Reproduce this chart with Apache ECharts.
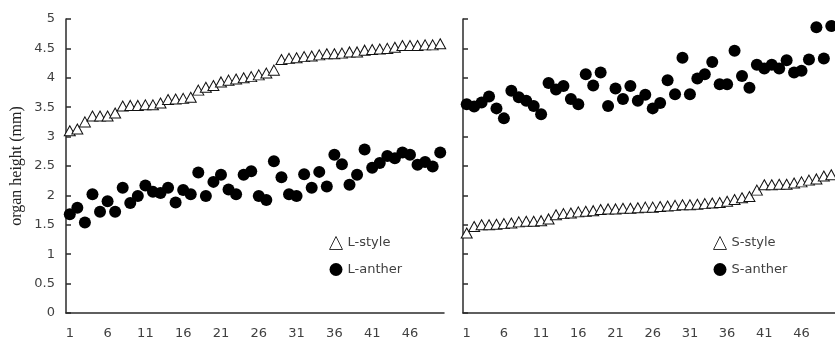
<!DOCTYPE html>
<html>
<head>
<meta charset="utf-8">
<script src="https://cdn.jsdelivr.net/npm/echarts@6/dist/echarts.min.js"></script>
<style>
  html, body { margin: 0; padding: 0; background: #fff; overflow: hidden; }
  #chart { width: 835px; height: 340px; }
</style>
</head>
<body>
<div id="chart"></div>
<script>
// sample index 1..50
const categories = Array.from({ length: 50 }, (_, i) => String(i + 1));

const lStyle = [
  3.10, 3.13, 3.25, 3.35, 3.35, 3.35, 3.40, 3.52, 3.53, 3.53,
  3.54, 3.54, 3.57, 3.63, 3.64, 3.65, 3.67, 3.79, 3.84, 3.87,
  3.93, 3.96, 3.98, 4.00, 4.02, 4.05, 4.08, 4.13, 4.31, 4.33,
  4.34, 4.36, 4.37, 4.39, 4.41, 4.41, 4.42, 4.44, 4.44, 4.47,
  4.48, 4.49, 4.50, 4.52, 4.55, 4.55, 4.55, 4.56, 4.56, 4.58
];
const lAnther = [
  1.68, 1.79, 1.54, 2.02, 1.72, 1.90, 1.72, 2.13, 1.87, 1.99,
  2.17, 2.06, 2.04, 2.13, 1.88, 2.09, 2.02, 2.39, 1.99, 2.23,
  2.35, 2.10, 2.02, 2.35, 2.41, 1.99, 1.92, 2.58, 2.31, 2.02,
  1.99, 2.36, 2.13, 2.40, 2.15, 2.69, 2.53, 2.18, 2.35, 2.78,
  2.47, 2.55, 2.67, 2.63, 2.73, 2.69, 2.52, 2.57, 2.49, 2.73
];
const sStyle = [
  1.36, 1.47, 1.50, 1.50, 1.51, 1.52, 1.53, 1.55, 1.56, 1.56,
  1.57, 1.60, 1.67, 1.69, 1.70, 1.72, 1.73, 1.74, 1.76, 1.77,
  1.77, 1.78, 1.78, 1.79, 1.80, 1.80, 1.81, 1.82, 1.83, 1.84,
  1.84, 1.85, 1.86, 1.87, 1.88, 1.90, 1.93, 1.96, 1.98, 2.09,
  2.18, 2.18, 2.19, 2.19, 2.21, 2.23, 2.26, 2.28, 2.33, 2.35
];
const sAnther = [
  3.55, 3.51, 3.58, 3.68, 3.48, 3.31, 3.78, 3.67, 3.61, 3.52,
  3.38, 3.91, 3.80, 3.86, 3.64, 3.55, 4.06, 3.87, 4.09, 3.52,
  3.82, 3.64, 3.86, 3.61, 3.71, 3.48, 3.57, 3.96, 3.72, 4.34,
  3.72, 3.99, 4.06, 4.27, 3.89, 3.89, 4.46, 4.03, 3.83, 4.22,
  4.16, 4.22, 4.16, 4.30, 4.09, 4.12, 4.31, 4.86, 4.33, 4.88
];

const axisColor = "#2b2b2b";
const labelColor = "#404040";
const sansFont = "DejaVu Sans";

let makeX = (gridIndex) => ({
  type: "category",
  gridIndex: gridIndex,
  data: categories,
  boundaryGap: true,
  axisLine: { lineStyle: { color: axisColor, width: 1.5 } },
  axisTick: { show: false },
  axisLabel: { interval: 4, color: labelColor, fontFamily: sansFont, fontSize: 13, margin: 14 },
  splitLine: { show: false }
});

let makeY = (gridIndex, showLabels) => ({
  type: "value",
  gridIndex: gridIndex,
  min: 0,
  max: 5,
  interval: 0.5,
  name: showLabels ? "organ height (mm)" : "",
  nameLocation: "middle",
  nameRotate: 90,
  nameGap: 41,
  nameTextStyle: { fontFamily: "Liberation Serif", fontSize: 16, color: "#222" },
  axisLine: { show: true, lineStyle: { color: axisColor, width: 1.5 } },
  axisTick: { show: true, inside: true, length: 5, lineStyle: { color: axisColor, width: 1.5 } },
  axisLabel: { show: showLabels, color: labelColor, fontFamily: sansFont, fontSize: 13, margin: 11 },
  splitLine: { show: false }
});

let triStyle = { color: "#fff", borderColor: "#111", borderWidth: 1, opacity: 1 };
let dotStyle = { color: "#000", borderWidth: 0, opacity: 1 };

let legendText = { color: labelColor, fontFamily: sansFont, fontSize: 13 };
let legendTri = { color: "#fff", borderColor: "#333", borderWidth: 1 };

let option = {
  animation: false,
  backgroundColor: "#fff",
  grid: [
    { left: 66, top: 19, width: 378, height: 294 },
    { left: 463, top: 19, width: 378, height: 294 }
  ],
  xAxis: [makeX(0), makeX(1)],
  yAxis: [makeY(0, true), makeY(1, false)],
  legend: [
    {
      orient: "vertical",
      left: 324, top: 231,
      itemWidth: 13, itemHeight: 13, itemGap: 13,
      textStyle: legendText,
      data: [
        { name: "L-style", icon: "triangle", itemStyle: legendTri },
        { name: "L-anther", icon: "circle" }
      ]
    },
    {
      orient: "vertical",
      left: 708, top: 231,
      itemWidth: 13, itemHeight: 13, itemGap: 13,
      textStyle: legendText,
      data: [
        { name: "S-style", icon: "triangle", itemStyle: legendTri },
        { name: "S-anther", icon: "circle" }
      ]
    }
  ],
  series: [
    { name: "L-style", type: "scatter", xAxisIndex: 0, yAxisIndex: 0, symbol: "triangle", symbolSize: [11, 10], itemStyle: triStyle, data: lStyle },
    { name: "L-anther", type: "scatter", xAxisIndex: 0, yAxisIndex: 0, symbol: "circle", symbolSize: 12, itemStyle: dotStyle, data: lAnther },
    { name: "S-style", type: "scatter", xAxisIndex: 1, yAxisIndex: 1, symbol: "triangle", symbolSize: [11, 10], itemStyle: triStyle, data: sStyle },
    { name: "S-anther", type: "scatter", xAxisIndex: 1, yAxisIndex: 1, symbol: "circle", symbolSize: 12, itemStyle: dotStyle, data: sAnther }
  ]
};

let chart = echarts.init(document.getElementById("chart"));
chart.setOption(option);
</script>
</body>
</html>
